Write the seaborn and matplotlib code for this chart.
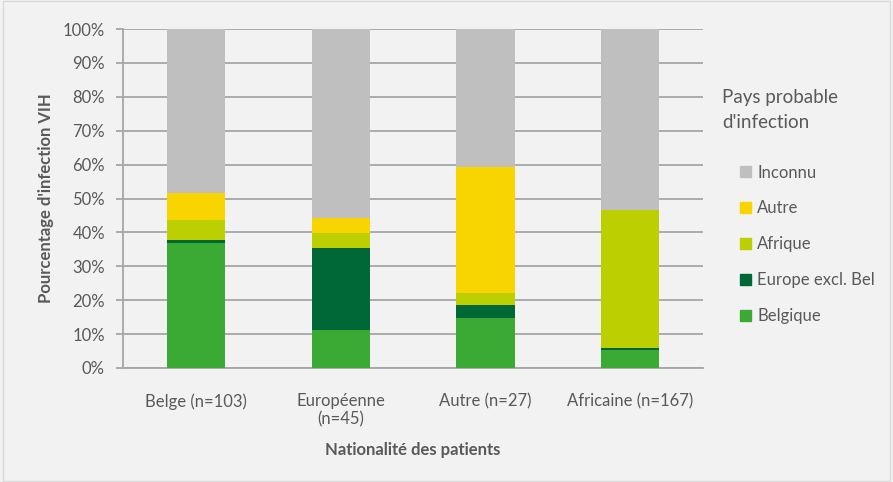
import matplotlib
matplotlib.use('Agg')
import matplotlib.pyplot as plt
import matplotlib.patches as mpatches
import seaborn as sns
import pandas as pd
import numpy as np

# Nationalité des patients
categories = ['Belge (n=103)', 'Européenne\n(n=45)', 'Autre (n=27)', 'Africaine (n=167)']

# Pays probable d'infection (% of patients), bottom to top
belgique = [36.9, 11.1, 14.8, 5.4]
europe = [1.0, 24.4, 3.7, 0.6]
afrique = [5.8, 4.4, 3.7, 40.7]
autre = [7.8, 4.4, 37.0, 0.0]
inconnu = [48.5, 55.6, 40.7, 53.3]

series_names = ['Belgique', 'Europe excl. Bel', 'Afrique', 'Autre', 'Inconnu']
series_colors = ['#3aaa35', '#006837', '#bccf00', '#f9d500', '#bfbfbf']

BG = '#f2f2f2'
TXT = '#595959'
GRID = '#a6a6a6'

sns.set_theme(style="white", rc={
    "axes.facecolor": BG,
    "figure.facecolor": BG,
    "text.color": TXT,
    "axes.labelcolor": TXT,
    "xtick.color": TXT,
    "ytick.color": TXT,
})
plt.rcParams['font.family'] = ['Lato', 'DejaVu Sans']

df = pd.DataFrame({
    'nationalite': categories,
    'Belgique': belgique,
    'Europe excl. Bel': europe,
    'Afrique': afrique,
    'Autre': autre,
    'Inconnu': inconnu,
})

fig = plt.figure(figsize=(8.93, 4.82), dpi=100)
ax = fig.add_axes([123 / 893, 1 - 368 / 482, 580 / 893, 339 / 482])
ax.set_facecolor(BG)

# stacked bars: draw cumulative totals from the top layer down
cum = df[series_names].cumsum(axis=1)
for name, color in reversed(list(zip(series_names, series_colors))):
    sns.barplot(x=df['nationalite'], y=cum[name], color=color,
                saturation=1, width=0.4, ax=ax, linewidth=0, zorder=3)

ax.set_ylim(0, 100)
ax.set_yticks(np.arange(0, 101, 10))
ax.set_yticklabels([f'{v}%' for v in range(0, 101, 10)])
ax.yaxis.grid(True, color=GRID, linewidth=1.3, zorder=0)
ax.set_axisbelow(True)

for s in ['top', 'right']:
    ax.spines[s].set_visible(False)
for s in ['left', 'bottom']:
    ax.spines[s].set_color(GRID)
    ax.spines[s].set_linewidth(1.3)

ax.tick_params(axis='y', left=True, length=5, width=1.3, color=GRID,
               pad=8, labelsize=12)
ax.tick_params(axis='x', bottom=False, pad=12, labelsize=12)

ax.set_xlabel('Nationalité des patients', fontsize=12,
              fontweight='bold', labelpad=10)
ax.set_ylabel("Pourcentage d'infection VIH", fontsize=12,
              fontweight='bold', labelpad=6)

fig.text(722 / 893, 1 - 110 / 482, 'Pays probable\nd\'infection',
         fontsize=13.5, color=TXT, va='center', ha='left', linespacing=1.55)

handles = [mpatches.Patch(color=c, label=n)
           for n, c in zip(series_names, series_colors)][::-1]
leg = ax.legend(handles=handles, loc='upper left',
                bbox_to_anchor=(733 / 893, 1 - 158 / 482),
                bbox_transform=fig.transFigure, frameon=False,
                fontsize=12, handlelength=0.65, handleheight=0.65,
                handletextpad=0.4, labelspacing=1.19, borderaxespad=0)
for t in leg.get_texts():
    t.set_color(TXT)

fig.patches.append(mpatches.Rectangle((0.003, 0.003), 0.994, 0.994,
                                      transform=fig.transFigure,
                                      fill=False, edgecolor='#d9d9d9',
                                      linewidth=1))

fig.savefig('out.png', dpi=100, facecolor=BG)
